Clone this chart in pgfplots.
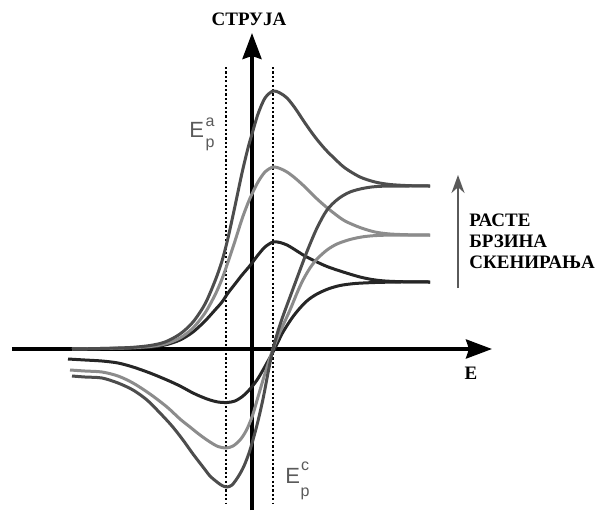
\documentclass[border=0pt]{standalone}
\usepackage{fontspec}
\setmainfont{Liberation Serif}
\newfontfamily\labelsans{Liberation Sans}
\usepackage{pgfplots}
\pgfplotsset{compat=1.18}
\usetikzlibrary{arrows.meta}

\definecolor{slowcv}{HTML}{262626}
\definecolor{midcv}{HTML}{8C8C8C}
\definecolor{fastcv}{HTML}{4D4D4D}
\definecolor{annot}{HTML}{5A5A5A}

\tikzset{
  boldlabel/.style={font=\bfseries\fontsize{9.5}{11}\selectfont, inner sep=0pt},
  peakE/.style={font=\labelsans\fontsize{11}{12}\selectfont, text=annot, anchor=base west, inner sep=0pt},
  peakidx/.style={font=\labelsans\fontsize{8}{9}\selectfont, text=annot, anchor=base, inner sep=0pt},
}

\begin{document}
\begin{tikzpicture}
\begin{axis}[
  x=0.5pt, y=0.5pt,
  xmin=-240, xmax=240, ymin=-161, ymax=316,
  axis lines=middle,
  axis line style={line width=1.8pt, -{Stealth[length=13pt,width=9.5pt,inset=1.5pt]}},
  xtick=\empty, ytick=\empty,
  clip=false,
  cv/.style={line width=1.5pt, smooth, tension=0.5, no markers},
  peakline/.style={line width=0.6pt, black, dash pattern=on 1.1pt off 1.1pt, sharp plot, no markers},
]

% page frame
\coordinate (pagebl) at (axis cs:-252,-166);
\coordinate (pagetr) at (axis cs:346,349);

% peak potentials
\addplot[peakline] coordinates {(-26,282) (-26,-155)};
\addplot[peakline] coordinates {(21,282) (21,-155)};

% slow scan
\addplot[cv, slowcv] coordinates {
(-180,0) (-152,0.3) (-122,0.8) (-102,1.8) (-87,4) (-72,9) (-59,17) (-47,28)
(-37,39) (-30,47) (-24,56) (-17,65) (-10,74) (-4,81) (0,86) (6,94) (13,102)
(21,107) (28,106.5) (35,104) (41,100.5) (53,93) (65,87) (75,82.5) (85,79)
(96,75.5) (108,72) (120,69.5) (133,68) (153,67.2) (178,67)};
\addplot[cv, slowcv] coordinates {
(-184,-10) (-167,-11) (-150,-12) (-134,-14) (-119,-18) (-102,-24) (-85,-31)
(-72,-37) (-59,-44) (-50,-48) (-42,-51) (-34,-53) (-25,-53.5) (-17,-52)
(-9,-47) (-2,-40) (5,-31) (11,-21) (16,-12) (21,-3) (26,7) (31,17) (40,31)
(48,41) (56,49) (65,55) (76,60) (88,63.5) (103,65.5) (123,66.5) (148,67) (178,67)};

% medium scan
\addplot[cv, midcv] coordinates {
(-180,0) (-152,0.5) (-122,1.2) (-102,2.5) (-87,5) (-72,11) (-59,21) (-47,36)
(-37,54) (-30,70) (-24,87) (-17,108) (-10,130) (-4,146) (0,155) (6,167)
(13,177) (21,182) (28,180.5) (35,177) (43,171) (53,162) (63,152) (73,143)
(83,135) (93,128) (108,121.5) (123,117) (138,115) (158,114.2) (178,114)};
\addplot[cv, midcv] coordinates {
(-182,-21) (-167,-22) (-150,-23) (-134,-27) (-119,-34) (-102,-45) (-85,-58)
(-72,-70) (-62,-78) (-52,-86) (-42,-93) (-34,-97.5) (-26,-99) (-19,-97)
(-12,-91) (-6,-82) (0,-68) (6,-48) (11,-31) (16,-15) (21,0) (28,17) (38,39)
(45,56) (51,69) (58,81) (65,90) (75,99) (85,105) (98,109.5) (113,112.5)
(133,113.8) (178,114)};

% fast scan
\addplot[cv, fastcv] coordinates {
(-180,0) (-152,0.5) (-122,1.5) (-102,3.5) (-87,7) (-72,15) (-59,27) (-47,45)
(-37,68) (-30,88) (-24,111) (-17,143) (-10,176) (-4,201) (0,215) (6,235)
(13,251) (21,258) (28,256) (35,251) (43,241) (53,226) (63,212) (73,200)
(83,190) (93,181) (108,172) (123,167) (138,164.5) (158,163.3) (178,163)};
\addplot[cv, fastcv] coordinates {
(-180,-27) (-167,-28) (-150,-29) (-134,-34) (-119,-41) (-105,-51) (-92,-64)
(-80,-77) (-69,-91) (-59,-105) (-49,-118) (-42,-127) (-35,-133) (-30,-136.5)
(-25,-138) (-20,-136) (-14,-128) (-8,-117) (-2,-101) (5,-76) (11,-50)
(16,-24) (21,0) (26,18) (31,33) (38,52) (48,79) (56,100) (65,121) (75,139)
(86,150) (98,157) (113,161) (131,162.8) (178,163)};

% scan-rate arrow
\addplot[annot, line width=1pt, sharp plot, no markers,
  -{Stealth[length=9pt,width=6.5pt]}] coordinates {(206,61) (206,174)};

% axis and annotation labels
\node[boldlabel] at (axis cs:-3,330) {СТРУЈА};
\node[boldlabel] at (axis cs:219,-24) {E};
\node[boldlabel, anchor=base west] at (axis cs:217,123) {РАСТЕ};
\node[boldlabel, anchor=base west] at (axis cs:217,102) {БРЗИНА};
\node[boldlabel, anchor=base west] at (axis cs:217,81) {СКЕНИРАЊА};

% peak potential labels
\node[peakE] at (axis cs:-63,212) {E};
\node[peakidx] at (axis cs:-42,223) {a};
\node[peakidx] at (axis cs:-42,202) {p};
\node[peakE] at (axis cs:33,-134) {E};
\node[peakidx] at (axis cs:53,-121) {c};
\node[peakidx] at (axis cs:53,-147) {p};
\end{axis}
\pgfresetboundingbox
\path (pagebl) rectangle (pagetr);
\end{tikzpicture}
\end{document}
